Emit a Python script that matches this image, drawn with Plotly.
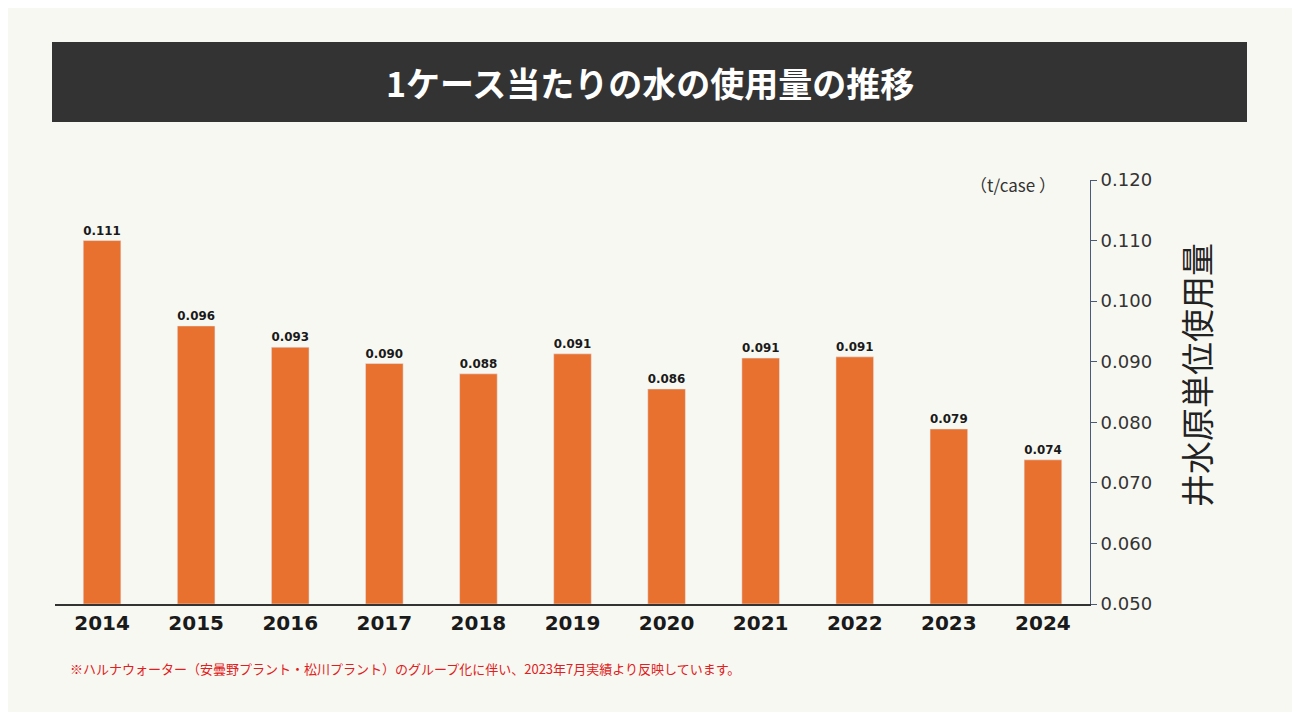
import plotly.graph_objects as go

years = ["2014", "2015", "2016", "2017", "2018", "2019", "2020", "2021", "2022", "2023", "2024"]
usage = [0.1100, 0.0959, 0.0924, 0.0897, 0.0880, 0.0913, 0.0855, 0.0906, 0.0908, 0.0789, 0.0738]
labels = ["0.111", "0.096", "0.093", "0.090", "0.088", "0.091", "0.086", "0.091", "0.091", "0.079", "0.074"]
ticks = [0.05, 0.06, 0.07, 0.08, 0.09, 0.10, 0.11, 0.12]

# the page body has an 8px margin, so shift everything by it
OFF = 8
W, H = 1300 - 2 * OFF, 720 - 2 * OFF
L, R, T, B = 55 - OFF, 1090 - OFF, 180 - OFF, 604 - OFF
font = "Noto Sans CJK JP"


def px(x):
    return (x - OFF - L) / (R - L)


def py(y):
    return (B - (y - OFF)) / (B - T)


fig = go.Figure(
    go.Bar(
        x=[f"<b>{y}</b>" for y in years],
        y=[v - 0.05 for v in usage],
        base=0.05,
        marker_color="#e8712f",
        text=[f"<b>{t}</b>" for t in labels],
        textposition="outside",
        textfont=dict(size=22, color="#1a1a1a", family="DejaVu Sans"),
        cliponaxis=False,
    )
)

fig.update_layout(
    width=W, height=H,
    margin=dict(l=L, r=W - R, t=T, b=H - B),
    paper_bgcolor="#f8f8f2", plot_bgcolor="#f8f8f2",
    bargap=0.6, showlegend=False,
    font=dict(family=font),
    xaxis=dict(
        showline=True, linecolor="#333", linewidth=2, ticks="",
        tickfont=dict(size=20, color="#1a1a1a", family="DejaVu Sans"),
    ),
    yaxis=dict(
        side="right", range=[0.05, 0.12], tickvals=ticks,
        tickformat=".3f", showgrid=False, zeroline=False,
        showline=True, linecolor="#4a5a7a", linewidth=1,
        ticks="outside", ticklen=6, tickcolor="#4a5a7a",
        tickfont=dict(size=18, color="#333", family="DejaVu Sans"),
    ),
    shapes=[dict(
        type="rect", xref="paper", yref="paper",
        x0=px(52), x1=px(1247), y0=py(42), y1=py(122),
        fillcolor="#333333", line_width=0, layer="below",
    )],
    annotations=[
        dict(text="<b>1ケース当たりの水の使用量の推移</b>", xref="paper", yref="paper",
             x=px(650), y=py(82), yanchor="middle", showarrow=False,
             font=dict(size=34, color="white", family=font)),
        dict(text="（t/case ）", xref="paper", yref="paper", x=px(1058), y=py(184),
             xanchor="right", yanchor="middle", showarrow=False,
             font=dict(size=17, color="#333", family=font)),
        dict(text="井水原単位使用量", xref="paper", yref="paper", x=px(1222), y=py(375),
             textangle=-90, showarrow=False,
             font=dict(size=33, color="#222", family=font)),
        dict(text="※ハルナウォーター（安曇野プラント・松川プラント）のグループ化に伴い、2023年7月実績より反映しています。",
             xref="paper", yref="paper", x=px(68), y=py(668), xanchor="left",
             yanchor="middle", showarrow=False,
             font=dict(size=13, color="#e02020", family=font)),
    ],
)

fig.write_html("out.html")
